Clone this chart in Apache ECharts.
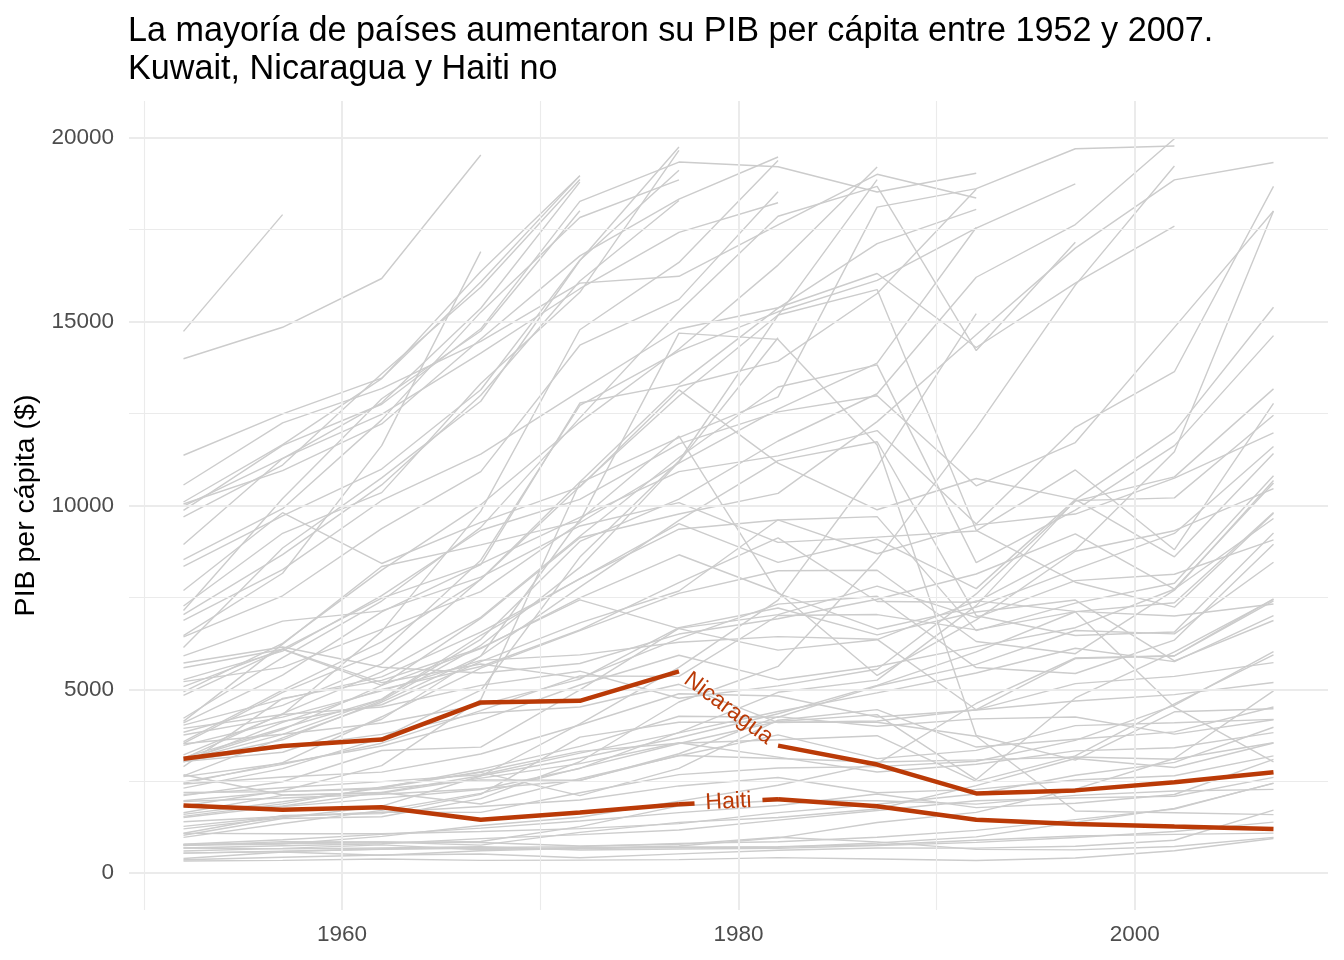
<!DOCTYPE html>
<html>
<head>
<meta charset="utf-8">
<script src="https://cdn.jsdelivr.net/npm/echarts@6/dist/echarts.min.js"></script>
<style>
html,body{margin:0;padding:0;background:#fff;}
#chart{width:1344px;height:960px;}
</style>
</head>
<body>
<div id="chart"></div>
<script>
// ---------- DATA ----------
const years = [1952, 1957, 1962, 1967, 1972, 1977, 1982, 1987, 1992, 1997, 2002, 2007];
const xTickLabels = [1960, 1980, 2000];
const yTickLabels = [0, 5000, 10000, 15000, 20000];
const yLimit = 20000;

const titleText = "La mayoría de países aumentaron su PIB per cápita entre 1952 y 2007.\nKuwait, Nicaragua y Haiti no";
const yAxisTitle = "PIB per cápita ($)";

const nicaragua = [3112, 3457, 3634, 4644, 4689, 5487, 3470, 2955, 2171, 2253, 2475, 2749];
const haiti = [1840, 1727, 1797, 1452, 1654, 1874, 2012, 1823, 1456, 1342, 1270, 1202];
const kuwait = [108382, 113523, 95458, 80895, 109348, 59265, 31354, 28118, 34933, 40301, 35110, 47307];

const americas = [
  ["Argentina", [5911, 6857, 7133, 8053, 9443, 10079, 8998, 9140, 9308, 10967, 8798, 12779]],
  ["Bolivia", [2677, 2128, 2181, 2587, 2980, 3548, 3157, 2754, 2962, 3326, 3413, 3822]],
  ["Brazil", [2109, 2487, 3337, 3430, 4986, 6660, 7031, 7807, 6950, 7958, 8131, 9066]],
  ["Canada", [11367, 12490, 13462, 16077, 18971, 22091, 22899, 26627, 26343, 28955, 33329, 36319]],
  ["Chile", [3940, 4316, 4519, 5107, 5494, 4757, 5096, 5547, 7596, 10118, 10779, 13172]],
  ["Colombia", [2144, 2324, 2492, 2679, 3265, 3816, 4398, 4903, 5445, 6117, 5755, 7007]],
  ["Costa Rica", [2627, 2990, 3461, 4162, 5118, 5927, 5263, 5630, 6161, 6677, 7723, 9645]],
  ["Cuba", [5587, 6092, 5181, 5690, 5305, 6380, 7317, 7533, 5593, 5432, 6341, 8948]],
  ["Dominican Republic", [1398, 1544, 1662, 1654, 2190, 2682, 2862, 2899, 3045, 3614, 4564, 6025]],
  ["Ecuador", [3522, 3780, 4086, 4580, 5280, 6680, 7213, 6482, 7104, 7429, 5773, 6873]],
  ["El Salvador", [3048, 3421, 3777, 4359, 4520, 5138, 4098, 4141, 4444, 5155, 5352, 5728]],
  ["Guatemala", [2428, 2617, 2750, 3243, 4031, 4880, 4820, 4247, 4439, 4684, 4858, 5186]],
  ["Honduras", [2195, 2220, 2292, 2538, 2529, 3203, 3121, 3023, 3082, 3160, 3099, 3548]],
  ["Jamaica", [2898, 4756, 5246, 6125, 7434, 6650, 6068, 6351, 7405, 7122, 6995, 7321]],
  ["Mexico", [3478, 4132, 4582, 5755, 6809, 7675, 9611, 8688, 9472, 9767, 10742, 11978]],
  ["Panama", [2480, 2961, 3536, 4421, 5365, 5352, 7009, 7034, 6619, 7114, 7357, 9809]],
  ["Paraguay", [1952, 2046, 2149, 2299, 2523, 3249, 4259, 3998, 4197, 4247, 3784, 4173]],
  ["Peru", [3759, 4245, 4957, 5788, 5938, 6281, 6435, 6361, 4446, 5838, 5909, 7409]],
  ["Puerto Rico", [3082, 3908, 5108, 6929, 9123, 9770, 10331, 12281, 14642, 16999, 18856, 19329]],
  ["Trinidad and Tobago", [3023, 4100, 4998, 5621, 6620, 7900, 9119, 7389, 7370, 8793, 11461, 18009]],
  ["United States", [13990, 14847, 16173, 19530, 21806, 24073, 25010, 29884, 32004, 35767, 39097, 42952]],
  ["Uruguay", [5717, 6151, 5603, 5445, 5703, 6504, 6920, 7452, 8137, 9231, 7727, 10611]],
  ["Venezuela", [7690, 9803, 8423, 9541, 10506, 13144, 11152, 9884, 10734, 10165, 8605, 11416]]
];

const asia = [
  ["Afghanistan", [779, 821, 853, 836, 740, 786, 978, 852, 649, 635, 727, 975]],
  ["Bahrain", [9867, 11636, 12753, 14805, 18269, 19340, 19211, 18524, 19036, 20292, 23404, 29796]],
  ["Bangladesh", [684, 662, 686, 721, 630, 660, 677, 752, 838, 973, 1136, 1391]],
  ["Cambodia", [368, 434, 497, 524, 422, 525, 625, 684, 682, 734, 896, 1714]],
  ["China", [400, 576, 488, 613, 677, 741, 962, 1379, 1656, 2289, 3119, 4959]],
  ["Hong Kong", [3054, 3629, 4693, 6198, 8316, 11186, 14561, 20038, 24758, 28378, 30209, 39725]],
  ["India", [547, 590, 658, 701, 724, 813, 856, 977, 1164, 1458, 1747, 2452]],
  ["Indonesia", [750, 859, 849, 763, 1111, 1383, 1517, 1748, 2383, 3119, 2874, 3541]],
  ["Iran", [3035, 3290, 4187, 5907, 9613, 11889, 7608, 6643, 7235, 8264, 9241, 11606]],
  ["Iraq", [4130, 6229, 8342, 8931, 9576, 14688, 14517, 11644, 3746, 3076, 4391, 4471]],
  ["Israel", [4087, 5386, 7106, 8394, 12787, 13306, 15367, 17122, 18051, 20897, 21906, 25523]],
  ["Japan", [3217, 4318, 6577, 9848, 14779, 16610, 19384, 22376, 26825, 28817, 28605, 31656]],
  ["Jordan", [1547, 1886, 2348, 2742, 2110, 2852, 4162, 4449, 3431, 3645, 3845, 4519]],
  ["Korea, Dem. Rep.", [1088, 1571, 1621, 2144, 3702, 4106, 4106, 4106, 3726, 1691, 1646, 1593]],
  ["Korea, Rep.", [1031, 1488, 1536, 2029, 3031, 4657, 5623, 8533, 12104, 15994, 19234, 23348]],
  ["Lebanon", [4834, 6090, 5109, 6106, 7486, 8660, 7641, 5378, 6890, 8755, 9314, 10461]],
  ["Malaysia", [1831, 1810, 2036, 2278, 2849, 3828, 4920, 5250, 7277, 10133, 10207, 12452]],
  ["Mongolia", [786, 912, 1056, 1226, 1421, 1648, 1842, 2153, 1784, 1902, 2140, 3096]],
  ["Myanmar", [331, 350, 388, 349, 357, 371, 424, 385, 347, 415, 611, 944]],
  ["Nepal", [546, 598, 652, 676, 674, 695, 718, 776, 898, 1011, 1057, 1091]],
  ["Oman", [1828, 2243, 2925, 4721, 10618, 11848, 12955, 18115, 18617, 19702, 19775, 22316]],
  ["Pakistan", [685, 747, 803, 942, 1050, 1176, 1444, 1705, 1972, 2049, 2093, 2606]],
  ["Philippines", [1273, 1548, 1650, 1815, 1990, 2374, 2603, 2190, 2279, 2537, 2651, 3190]],
  ["Saudi Arabia", [6460, 8157, 11627, 16903, 24837, 34168, 33693, 21199, 24841, 20586, 19014, 21655]],
  ["Singapore", [2315, 2843, 3675, 4977, 8597, 11210, 15169, 18862, 24769, 33519, 36023, 47143]],
  ["Sri Lanka", [1083, 1072, 1074, 1136, 1213, 1348, 1648, 1877, 2154, 2665, 3015, 3970]],
  ["Syria", [1644, 2117, 2194, 1882, 2571, 3195, 3762, 3116, 3341, 4014, 4091, 4185]],
  ["Taiwan", [1207, 1508, 1823, 2644, 4063, 5597, 7426, 11054, 15216, 20207, 23235, 28718]],
  ["Thailand", [758, 793, 1002, 1296, 1524, 1961, 2393, 2982, 4616, 5853, 5914, 7458]],
  ["Vietnam", [605, 676, 772, 637, 700, 714, 707, 821, 989, 1386, 1764, 2442]],
  ["West Bank and Gaza", [1516, 1827, 2199, 2650, 3133, 3683, 4337, 5107, 6018, 7111, 4516, 3026]],
  ["Yemen, Rep.", [782, 805, 826, 863, 1266, 1830, 1978, 1972, 1879, 2117, 2235, 2281]]
];

const europe = [
  ["Albania", [1601, 1942, 2313, 2760, 3313, 3533, 3631, 3739, 2497, 3193, 4604, 5937]],
  ["Austria", [6137, 8843, 10751, 12835, 16662, 19750, 21597, 23688, 27042, 29096, 32418, 36126]],
  ["Belgium", [8343, 9715, 10991, 13149, 16672, 19118, 20980, 22526, 25576, 27561, 30486, 33693]],
  ["Bosnia and Herzegovina", [974, 1354, 1710, 2172, 2860, 3528, 4127, 4314, 2547, 4766, 6019, 7446]],
  ["Bulgaria", [2444, 3009, 4255, 5578, 6597, 7612, 8225, 8240, 6303, 5970, 7697, 10681]],
  ["Croatia", [3119, 4338, 5478, 6960, 9165, 11305, 13222, 13823, 8448, 9876, 11628, 14619]],
  ["Czech Republic", [6876, 8256, 10137, 11399, 13108, 14800, 15377, 16310, 14297, 16049, 17596, 22833]],
  ["Denmark", [9692, 11100, 13584, 15937, 18866, 20423, 21688, 25116, 26407, 29804, 32167, 35278]],
  ["Finland", [6425, 7545, 9372, 10922, 14359, 15605, 18533, 21141, 20647, 23724, 28205, 33207]],
  ["France", [7030, 8663, 10560, 12999, 16107, 18293, 20294, 22066, 24704, 25890, 28926, 30470]],
  ["Germany", [7144, 10188, 12902, 14746, 18016, 20513, 22032, 24639, 26505, 27789, 30036, 32170]],
  ["Greece", [3531, 4916, 6017, 8513, 12725, 14196, 15268, 16121, 17541, 18748, 22514, 27538]],
  ["Hungary", [5264, 6040, 7550, 9326, 10168, 11675, 12546, 12986, 10536, 11712, 14844, 18009]],
  ["Iceland", [7268, 9244, 10350, 13320, 15798, 19655, 23270, 26923, 25144, 28061, 31163, 36181]],
  ["Ireland", [5210, 5599, 6632, 7656, 9531, 11151, 12618, 13873, 17559, 24522, 34077, 40676]],
  ["Italy", [4931, 6249, 8244, 10022, 12269, 14256, 16537, 19208, 22014, 24675, 27968, 28570]],
  ["Montenegro", [2648, 3682, 4650, 5907, 7779, 9596, 11222, 11733, 7003, 6465, 6558, 9254]],
  ["Netherlands", [8942, 11276, 12791, 15363, 18795, 21210, 21400, 23651, 26791, 30246, 33725, 36798]],
  ["Norway", [10095, 11654, 13450, 16362, 18965, 23311, 26299, 31541, 33966, 41283, 44684, 49357]],
  ["Poland", [4029, 4734, 5339, 6557, 8007, 9508, 8452, 9082, 7739, 10160, 12002, 15390]],
  ["Portugal", [3068, 3775, 4728, 6362, 9022, 10172, 11754, 13039, 16207, 17641, 19971, 20510]],
  ["Romania", [3145, 3943, 4734, 6471, 8011, 9356, 9605, 9697, 6598, 7346, 7886, 10808]],
  ["Serbia", [3581, 4981, 6290, 7991, 10523, 12980, 15181, 15871, 9325, 7914, 7236, 9787]],
  ["Slovak Republic", [5074, 6093, 7481, 8412, 9674, 10922, 11348, 12037, 9498, 12126, 13638, 18678]],
  ["Slovenia", [4215, 5862, 7402, 9405, 12383, 15277, 17866, 18678, 14214, 17161, 20660, 25768]],
  ["Spain", [3834, 4565, 5694, 7994, 10639, 13237, 13926, 15765, 18603, 20445, 24835, 28821]],
  ["Sweden", [8528, 9912, 12329, 15258, 17832, 18856, 20667, 23586, 23880, 25267, 29342, 33860]],
  ["Switzerland", [14734, 17909, 20431, 22966, 27195, 26982, 28398, 30282, 31872, 32135, 34481, 37506]],
  ["Turkey", [1970, 2219, 2323, 2826, 3451, 4269, 4241, 5090, 5678, 6601, 6508, 8458]],
  ["United Kingdom", [9980, 11283, 12477, 14143, 15895, 17429, 18232, 21665, 22705, 26075, 29479, 33203]]
];

const oceania = [
  ["Australia", [10040, 10950, 12217, 14526, 16789, 18334, 19477, 21889, 23425, 26998, 30688, 34435]],
  ["New Zealand", [10557, 12247, 13176, 14464, 16046, 16234, 17632, 19007, 18363, 21050, 23190, 25185]]
];

// ---------- STYLE ----------
const RED = "#BA3A07";
const GRAY = "#CCCCCC";
const GRID = "#EBEBEB";
const FONT = "'Liberation Sans', Arial, sans-serif";
const LABEL_FONT_SIZE = 23;
const LABEL_PAD = 11;

// values above the y limit are dropped (line breaks), as with scale limits
function toPairs(vals, from, to) {
  return years.map((y, i) => {
    const v = vals[i];
    const inRange = (from === undefined || (i >= from && i <= to));
    return [y, (inRange && v <= yLimit) ? v : null];
  });
}

const chart = echarts.init(document.getElementById('chart'), null, {renderer: 'canvas'});

const grayCountries = [].concat(americas, asia, europe, oceania, [["Kuwait", kuwait]]);

const series = [];

// grid lines through a helper series
series.push({
  type: 'line', data: [], silent: true, z: 0,
  markLine: {
    silent: true, symbol: ['none', 'none'], label: {show: false}, animation: false,
    data: [
      ...[1950, 1970, 1990].map(v => ({xAxis: v, lineStyle: {color: GRID, width: 1.1, type: 'solid'}})),
      ...[2500, 7500, 12500, 17500].map(v => ({yAxis: v, lineStyle: {color: GRID, width: 1.1, type: 'solid'}})),
      ...xTickLabels.map(v => ({xAxis: v, lineStyle: {color: GRID, width: 2, type: 'solid'}})),
      ...yTickLabels.map(v => ({yAxis: v, lineStyle: {color: GRID, width: 2, type: 'solid'}}))
    ]
  }
});

grayCountries.forEach(([name, vals]) => {
  series.push({
    name: name, type: 'line', data: toPairs(vals), symbol: 'none', showSymbol: false,
    connectNulls: false, silent: true, z: 2,
    lineStyle: {color: GRAY, width: 1.4}
  });
});

function highlight(name, vals, splitIdx) {
  series.push({type: 'line', data: toPairs(vals, 0, splitIdx), symbol: 'none', connectNulls: false, silent: true, z: 5,
    lineStyle: {color: RED, width: 4.5, cap: 'butt'}});
  series.push({type: 'line', data: toPairs(vals, splitIdx + 1, years.length - 1), symbol: 'none', connectNulls: false, silent: true, z: 5,
    lineStyle: {color: RED, width: 4.5, cap: 'butt'}});
  series.push({id: name + '_gap', type: 'line',
    data: [[years[splitIdx], vals[splitIdx]], [years[splitIdx + 1], vals[splitIdx + 1]]],
    symbol: 'none', silent: true, z: 5,
    lineStyle: {color: RED, width: 4.5, cap: 'butt', type: 'solid'}});
  series.push({id: name + '_label', type: 'scatter',
    data: [[(years[splitIdx] + years[splitIdx + 1]) / 2, (vals[splitIdx] + vals[splitIdx + 1]) / 2]],
    symbolSize: 1, itemStyle: {color: 'rgba(0,0,0,0)'}, silent: true, z: 6,
    label: {show: true, position: 'inside', formatter: name, color: RED, fontSize: LABEL_FONT_SIZE,
      fontFamily: FONT, rotate: 0, textBorderWidth: 0, textBorderColor: 'transparent', opacity: 1}});
}

highlight('Nicaragua', nicaragua, 5);
highlight('Haiti', haiti, 5);

const option = {
  animation: false,
  backgroundColor: '#fff',
  textStyle: {fontFamily: FONT},
  title: {
    text: titleText, left: 123, top: 8,
    textStyle: {fontSize: 34.2, fontWeight: 'normal', color: '#000', fontFamily: FONT, lineHeight: 38}
  },
  grid: {left: 129, right: 16, top: 101, bottom: 50, containLabel: false},
  xAxis: {
    type: 'value', min: 1949.25, max: 2009.75,
    axisLine: {show: false}, axisTick: {show: false}, splitLine: {show: false},
    axisLabel: {customValues: xTickLabels, color: '#4D4D4D', fontSize: 22.5, fontFamily: FONT, margin: 13,
      formatter: v => String(v)}
  },
  yAxis: {
    type: 'value', min: -1000, max: 21000,
    name: yAxisTitle, nameLocation: 'middle', nameGap: 87, nameRotate: 90,
    nameTextStyle: {fontSize: 28.5, color: '#000', fontFamily: FONT},
    axisLine: {show: false}, axisTick: {show: false}, splitLine: {show: false},
    axisLabel: {customValues: yTickLabels, color: '#4D4D4D', fontSize: 22.5, fontFamily: FONT, margin: 15,
      formatter: v => String(v)}
  },
  series: series
};

chart.setOption(option);

// place labels along the gap segments
const ctx = document.createElement('canvas').getContext('2d');
ctx.font = LABEL_FONT_SIZE + 'px ' + FONT;
function placeLabel(name, vals, idx) {
  const p1 = chart.convertToPixel({gridIndex: 0}, [years[idx], vals[idx]]);
  const p2 = chart.convertToPixel({gridIndex: 0}, [years[idx + 1], vals[idx + 1]]);
  const dx = p2[0] - p1[0], dy = p2[1] - p1[1];
  const L = Math.sqrt(dx * dx + dy * dy);
  const tw = ctx.measureText(name).width;
  const gap = Math.min(L, tw + 2 * LABEL_PAD);
  const stub = Math.max(0, (L - gap) / 2);
  const angle = -Math.atan2(dy, dx) * 180 / Math.PI;
  chart.setOption({series: [
    {id: name + '_gap', lineStyle: {type: [Math.max(stub, 0.01), gap, L + 10], dashOffset: 0}},
    {id: name + '_label', label: {rotate: angle}}
  ]});
}
placeLabel('Nicaragua', nicaragua, 5);
placeLabel('Haiti', haiti, 5);
</script>
</body>
</html>
